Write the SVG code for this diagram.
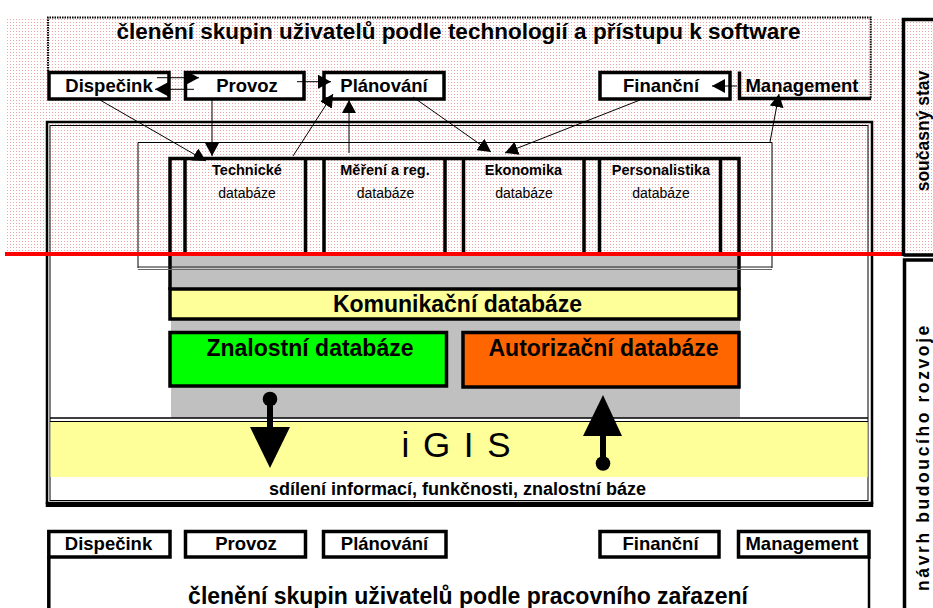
<svg xmlns="http://www.w3.org/2000/svg" width="933" height="608" viewBox="0 0 933 608">
  <defs>
    <!-- fine pink dot raster for the "current state" zone -->
    <pattern id="dots" x="0" y="0" width="3" height="3" patternUnits="userSpaceOnUse">
      <rect width="3" height="3" fill="#ffffff"/>
      <rect x="1" y="1" width="1" height="1" fill="#f0a4a4"/>
    </pattern>
    <marker id="ah" markerUnits="userSpaceOnUse" viewBox="0 0 13 14" markerWidth="13" markerHeight="14" refX="13" refY="7" orient="auto">
      <path d="M0,0 L13,7 L0,14 z" fill="#000"/>
    </marker>
  </defs>
  <style>
    text { font-family: "Liberation Sans", Arial, sans-serif; fill: #000; }
    .b { font-weight: bold; }
    .mid { text-anchor: middle; }
    .box { fill: #ffffff; stroke: #000; stroke-width: 3.5; }
    .boxline { fill: none; stroke: #000; stroke-width: 3.5; }
    .tag { font-size: 18.5px; font-weight: bold; text-anchor: middle; }
    .colhead { font-size: 14.5px; font-weight: bold; text-anchor: middle; }
    .colsub { font-size: 14px; text-anchor: middle; }
    .col { stroke: #000; stroke-width: 3.5; fill: none; }
    .big { font-size: 23px; font-weight: bold; text-anchor: middle; }
    .side { font-size: 17.5px; font-weight: bold; text-anchor: middle; }
    .conn { stroke: #000; stroke-width: 1; fill: none; marker-end: url(#ah); }
    .thin { stroke: #000; stroke-width: 1; fill: none; }
  </style>

  <!-- background raster of the upper zone -->
  <rect x="5" y="17" width="928" height="237" fill="url(#dots)"/>

  <!-- title frame: grouping by technology and software access -->
  <g id="title-technology">
    <path d="M48,71 V17.5 H870.7 V99" fill="none" stroke="#000" stroke-width="2" stroke-dasharray="1.5 1"/>
    <text x="458.5" y="39" class="b mid" font-size="22.5">členění skupin uživatelů podle technologií a přístupu k software</text>
  </g>

  <!-- user groups, upper row -->
  <g id="dispecink-top">
    <rect x="49" y="72.5" width="120" height="26.5" class="box"/>
    <text x="109" y="92" class="tag">Dispečink</text>
  </g>
  <g id="provoz-top">
    <rect x="185.5" y="72.5" width="118.5" height="26.5" class="box"/>
    <text x="247" y="92" class="tag">Provoz</text>
  </g>
  <g id="planovani-top">
    <rect x="324" y="72.5" width="120" height="26.5" class="box"/>
    <text x="384" y="92" class="tag">Plánování</text>
  </g>
  <g id="financni-top">
    <rect x="600" y="72.5" width="130" height="26.5" class="box"/>
    <text x="661" y="92" class="tag">Finanční</text>
  </g>
  <g id="management-top">
    <path d="M739.5,71.5 V98.5 H871" class="boxline"/>
    <text x="802" y="92" class="tag">Management</text>
  </g>

  <!-- outer double frame of the shared system -->
  <g id="system-frame">
    <rect x="47" y="122" width="825" height="381" fill="none" stroke="#000" stroke-width="2.5"/>
    <rect x="50" y="125.5" width="818" height="375" fill="none" stroke="#000" stroke-width="1"/>
    <line x1="45.75" y1="504.5" x2="873.25" y2="504.5" stroke="#000" stroke-width="5"/>
  </g>

  <!-- thin frame around the departmental databases -->
  <g id="legacy-frame">
    <path d="M138,268 V142.5 H772 V268" class="thin"/>
  </g>

  <!-- departmental databases -->
  <g id="db-frame">
    <path d="M170,253 V158.5 H739 V253" class="col"/>
  </g>
  <g id="db-technicke">
    <path d="M185,158.5 V253 M305.5,158.5 V253" class="col"/>
    <text x="247" y="175" class="colhead">Technické</text>
    <text x="247" y="198" class="colsub">databáze</text>
  </g>
  <g id="db-mereni">
    <path d="M324,158.5 V253 M445,158.5 V253" class="col"/>
    <text x="385" y="175" class="colhead">Měření a reg.</text>
    <text x="385.5" y="198" class="colsub">databáze</text>
  </g>
  <g id="db-ekonomika">
    <path d="M463.5,158.5 V253 M584,158.5 V253" class="col"/>
    <text x="523.5" y="175" class="colhead">Ekonomika</text>
    <text x="524" y="198" class="colsub">databáze</text>
  </g>
  <g id="db-personalistika">
    <path d="M599.5,158.5 V253 M720.5,158.5 V253" class="col"/>
    <text x="661" y="175" class="colhead">Personalistika</text>
    <text x="661" y="198" class="colsub">databáze</text>
  </g>

  <!-- shared database core -->
  <g id="db-core">
    <rect x="171" y="256" width="569" height="162" fill="#c0c0c0"/>
    <path d="M170,253 V290 M739,253 V290" class="col"/>
    <line x1="138" y1="267" x2="772" y2="267" stroke="#1a1a1a" stroke-width="1"/>
    <line x1="138" y1="269.5" x2="772" y2="269.5" stroke="#666" stroke-width="1.2"/>
  </g>
  <g id="komunikacni">
    <rect x="170" y="289" width="569" height="30" fill="#ffff99" stroke="#000" stroke-width="3.5"/>
    <text x="457.5" y="312" class="big">Komunikační databáze</text>
  </g>
  <g id="znalostni">
    <rect x="170" y="332.5" width="276.5" height="53.5" fill="#00ff00" stroke="#000" stroke-width="3.5"/>
    <text x="310" y="356" class="big">Znalostní databáze</text>
  </g>
  <g id="autorizacni">
    <rect x="463" y="332.5" width="276" height="54.5" fill="#ff6600" stroke="#000" stroke-width="3.5"/>
    <text x="603.5" y="356" class="big">Autorizační databáze</text>
  </g>

  <!-- iGIS layer -->
  <g id="igis">
    <rect x="50.5" y="422" width="817" height="55" fill="#ffff99"/>
    <line x1="50" y1="418" x2="868" y2="418" stroke="#000" stroke-width="1.5"/>
    <line x1="50" y1="421.5" x2="868" y2="421.5" stroke="#000" stroke-width="1.2"/>
    <text x="457" y="457" class="mid" font-size="35" letter-spacing="2">i G I S</text>
    <text x="457.5" y="495" class="b mid" font-size="18">sdílení informací, funkčnosti, znalostní báze</text>
  </g>

  <!-- boundary between current state and proposal -->
  <line id="boundary" x1="5" y1="254" x2="905" y2="254" stroke="#ff0000" stroke-width="4"/>

  <!-- side labels -->
  <g id="side-current">
    <path d="M903.5,256 V19.5 H933" fill="none" stroke="#000" stroke-width="3.5"/>
    <line x1="903.5" y1="255" x2="933" y2="255" stroke="#000" stroke-width="3.5"/>
    <text transform="translate(929,131) rotate(-90)" class="side">současný stav</text>
  </g>
  <g id="side-proposal">
    <path d="M904.5,608 V260 H933" fill="none" stroke="#000" stroke-width="3.5"/>
    <text transform="translate(929,457) rotate(-90)" class="side" letter-spacing="2.6">návrh budoucího rozvoje</text>
  </g>

  <!-- user groups, lower row -->
  <g id="title-work">
    <path d="M48.8,557 V608" class="boxline"/>
    <path d="M869,557 V608" fill="none" stroke="#000" stroke-width="2.5"/>
    <text x="468" y="604" class="big">členění skupin uživatelů podle pracovního zařazení</text>
  </g>
  <g id="dispecink-bottom">
    <rect x="48.8" y="531.5" width="121.2" height="25.5" class="box"/>
    <text x="108.5" y="550" class="tag">Dispečink</text>
  </g>
  <g id="provoz-bottom">
    <rect x="185.5" y="531.5" width="120" height="25.5" class="box"/>
    <text x="246" y="550" class="tag">Provoz</text>
  </g>
  <g id="planovani-bottom">
    <rect x="323.5" y="531.5" width="122.5" height="25.5" class="box"/>
    <text x="384.5" y="550" class="tag">Plánování</text>
  </g>
  <g id="financni-bottom">
    <rect x="600" y="531.5" width="119" height="25.5" class="box"/>
    <text x="660.5" y="550" class="tag">Finanční</text>
  </g>
  <g id="management-bottom">
    <rect x="738.5" y="531.5" width="130.5" height="25.5" class="box"/>
    <text x="802" y="550" class="tag">Management</text>
  </g>

  <!-- connectors -->
  <g id="connectors">
    <line x1="157" y1="77.7" x2="199" y2="77.7" class="conn"/>
    <line x1="194" y1="89.3" x2="155" y2="89.3" class="conn"/>
    <line x1="297" y1="81.7" x2="331" y2="81.7" class="conn"/>
    <line x1="293" y1="156" x2="333" y2="94" class="conn"/>
    <line x1="349" y1="153" x2="349" y2="100" class="conn"/>
    <line x1="100" y1="100" x2="206" y2="161" class="conn"/>
    <line x1="212" y1="99" x2="212" y2="156" class="conn"/>
    <line x1="413" y1="97" x2="491" y2="152" class="conn"/>
    <line x1="640" y1="100" x2="505" y2="153" class="conn"/>
    <line x1="770" y1="142" x2="779" y2="94" class="conn"/>
    <line x1="737" y1="86" x2="712" y2="86" class="conn"/>

    <!-- knowledge base feeds iGIS -->
    <circle cx="270" cy="399" r="7.3" fill="#000"/>
    <rect x="267" y="399" width="6" height="30" fill="#000"/>
    <polygon points="250,427 290,427 270,468" fill="#000"/>

    <!-- iGIS requests authorization -->
    <circle cx="603" cy="463.5" r="7.3" fill="#000"/>
    <rect x="600" y="434" width="6" height="30" fill="#000"/>
    <polygon points="583,436 622,436 603,395" fill="#000"/>
  </g>
</svg>
